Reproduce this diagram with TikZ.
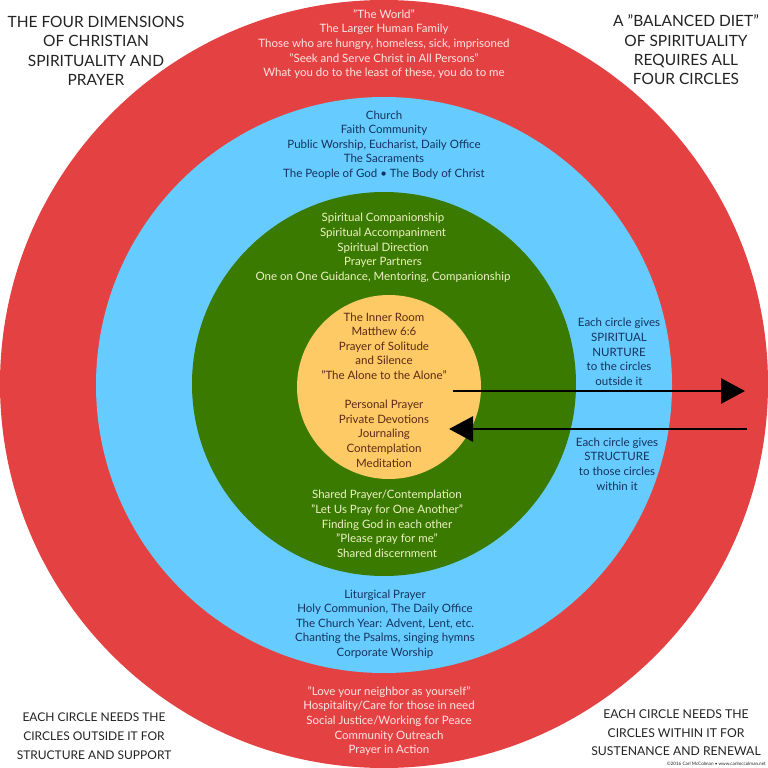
\documentclass[tikz,border=0pt]{standalone}
\usepackage{fontspec}
\setmainfont{Lato}
\usetikzlibrary{arrows.meta,positioning}
\definecolor{world}{RGB}{228,66,66}
\definecolor{church}{RGB}{102,204,255}
\definecolor{companion}{RGB}{58,122,0}
\definecolor{inner}{RGB}{253,202,102}
\definecolor{worldtext}{RGB}{255,228,228}
\definecolor{churchtext}{RGB}{22,50,92}
\definecolor{companiontext}{RGB}{236,242,196}
\definecolor{innertext}{RGB}{92,42,20}
\definecolor{cornertext}{RGB}{35,35,35}

\tikzset{
  ringtext/.style={align=center,font=\fontsize{11.5}{14.6}\selectfont,inner sep=0pt},
  cornerlabel/.style={align=center,text=cornertext,font=\fontsize{15.5}{19.3}\selectfont,inner sep=0pt},
  flow/.style={line width=2.8pt,-{Triangle[length=24pt,width=25pt]}}
}

\begin{document}
\begin{tikzpicture}[x=1pt,y=-1pt]
    \useasboundingbox[fill=white] (0,0) rectangle (768,768);
    % the four circles
    \fill[world] (384,384) circle (384);
    \fill[church] (384,385) circle (288);
    \fill[companion] (384,384) circle (192);
    \fill[inner] (389,387) circle (92);

    % red circle
    \node[ringtext,text=worldtext] (world) at (384,44) {"The World"\\The Larger Human Family\\Those who are hungry, homeless, sick, imprisoned\\"Seek and Serve Christ in All Persons"\\What you do to the least of these, you do to me};
    \node[ringtext,text=worldtext] (action) at (389,721) {"Love your neighbor as yourself"\\Hospitality/Care for those in need\\Social Justice/Working for Peace\\Community Outreach\\Prayer in Action};

    % blue circle
    \node[ringtext,text=churchtext] (church) at (384,145) {Church\\Faith Community\\Public Worship, Eucharist, Daily Office\\The Sacraments\\The People of God \textbullet{} The Body of Christ};
    \node[ringtext,text=churchtext] (liturgy) at (385,624) {Liturgical Prayer\\Holy Communion, The Daily Office\\The Church Year: Advent, Lent, etc.\\Chanting the Psalms, singing hymns\\Corporate Worship};

    % green circle
    \node[ringtext,text=companiontext] (companion) at (383,248) {Spiritual Companionship\\Spiritual Accompaniment\\Spiritual Direction\\Prayer Partners\\One on One Guidance, Mentoring, Companionship};
    \node[ringtext,text=companiontext] (shared) at (387,524) {Shared Prayer/Contemplation\\"Let Us Pray for One Another"\\Finding God in each other\\"Please pray for me"\\Shared discernment};

    % yellow circle
    \node[ringtext,text=innertext] (inner) at (384,390) {The Inner Room\\Matthew 6:6\\Prayer of Solitude\\and Silence\\"The Alone to the Alone"\\[14.6pt]Personal Prayer\\Private Devotions\\Journaling\\Contemplation\\Meditation};

    % arrows
    \coordinate (nurtureStart) at (453,391);
    \coordinate (nurtureEnd) at (745,391);
    \coordinate (structureStart) at (747,429);
    \coordinate (structureEnd) at (449,429);
    \draw[flow] (nurtureStart) -- (nurtureEnd);
    \draw[flow] (structureStart) -- (structureEnd);
    \node[ringtext,text=churchtext] (nurture) at (619,352) {Each circle gives\\SPIRITUAL\\NURTURE\\to the circles\\outside it};
    \node[ringtext,text=churchtext] (structure) at (617,464) {Each circle gives\\STRUCTURE\\to those circles\\within it};

    % corners
    \node[cornerlabel] (title) at (96,51) {THE FOUR DIMENSIONS\\OF CHRISTIAN\\SPIRITUALITY AND\\PRAYER};
    \node[cornerlabel] (diet) at (686,50) {A "BALANCED DIET"\\OF SPIRITUALITY\\REQUIRES ALL\\FOUR CIRCLES};
    \node[cornerlabel,font=\fontsize{12}{19}\selectfont] (support) at (94,736) {EACH CIRCLE NEEDS THE\\CIRCLES OUTSIDE IT FOR\\STRUCTURE AND SUPPORT};
    \node[cornerlabel,font=\fontsize{12.2}{18.5}\selectfont] (renewal) at (676,733) {EACH CIRCLE NEEDS THE\\CIRCLES WITHIN IT FOR\\SUSTENANCE AND RENEWAL};
    \node[inner sep=0pt,text=cornertext,font=\fontsize{4.6}{5}\selectfont,anchor=east] (credit) at (766,763.5) {©2016 Carl McColman \textbullet{} www.carlmccolman.net};
\end{tikzpicture}
\end{document}
